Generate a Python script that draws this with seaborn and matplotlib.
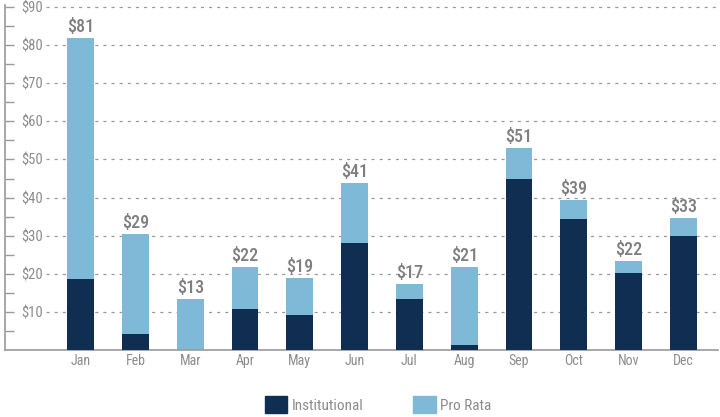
import numpy as np
import pandas as pd
import seaborn as sns
import matplotlib.pyplot as plt
from matplotlib.patches import Patch

months = ['Jan', 'Feb', 'Mar', 'Apr', 'May', 'Jun', 'Jul', 'Aug', 'Sep', 'Oct', 'Nov', 'Dec']
institutional = [18.6, 4.2, 0.0, 10.8, 9.2, 28.1, 13.4, 1.3, 44.9, 34.4, 20.2, 29.9]
pro_rata = [63.3, 26.2, 13.4, 11.0, 9.7, 15.7, 3.9, 20.5, 8.1, 5.0, 3.2, 4.7]
labels = ['$81', '$29', '$13', '$22', '$19', '$41', '$17', '$21', '$51', '$39', '$22', '$33']

navy = '#102e52'
light = '#7fb9d8'
gray = '#8c8c8c'

df = pd.DataFrame({'month': months, 'institutional': institutional, 'pro_rata': pro_rata})
df['total'] = df['institutional'] + df['pro_rata']

sns.set_style('white')
plt.rcParams['font.family'] = ['Roboto Condensed', 'Barlow Condensed', 'DejaVu Sans']

fig = plt.figure(figsize=(7.2, 4.17), dpi=100)
ax = fig.add_axes([5 / 720, 67 / 417, 713 / 720, 345 / 417])

sns.barplot(data=df, x='month', y='total', color=light, saturation=1, width=0.49, ax=ax,
            linewidth=0, edgecolor='none', zorder=2)
sns.barplot(data=df, x='month', y='institutional', color=navy, saturation=1, width=0.49, ax=ax,
            linewidth=0, edgecolor='none', zorder=3)

ax.set_xlim(-1.38, 11.63)
ax.set_ylim(0, 90.55)

# dotted gridlines start just right of the tick labels
for v in range(10, 100, 10):
    ax.hlines(v, -0.63, 11.63, colors='#9a9a9a', linestyles=(0, (2.5, 4)), linewidth=0.9, zorder=0)

ax.set_yticks(range(10, 100, 10))
ax.set_yticks(range(5, 90, 10), minor=True)
ax.set_yticklabels([f'${v}' for v in range(10, 100, 10)])
ax.tick_params(axis='y', which='both', direction='in', length=6.5, width=1, color='#9a9a9a',
               left=True, pad=-12, labelsize=10.5, labelcolor=gray)
for t in ax.get_yticklabels():
    t.set_horizontalalignment('left')
ax.tick_params(axis='x', length=0, pad=3, labelsize=10, labelcolor=gray)

for i, (tot, lab) in enumerate(zip(df['total'], labels)):
    ax.annotate(lab, (i, tot), xytext=(0, 1.5), textcoords='offset points', ha='center', va='bottom',
                fontsize=13, color='#7f7f7f', fontweight='medium')

for side in ['top', 'right']:
    ax.spines[side].set_visible(False)
ax.spines['left'].set_color('#9a9a9a')
ax.spines['bottom'].set_color('#9a9a9a')
ax.spines['left'].set_linewidth(1.2)
ax.spines['bottom'].set_linewidth(1.2)
ax.set_xlabel('')
ax.set_ylabel('')

handles = [Patch(color=navy, label='Institutional'), Patch(color=light, label='Pro Rata')]
leg = fig.legend(handles=handles, loc='lower center', bbox_to_anchor=(0.525, -0.024), ncol=2, frameon=False,
                 fontsize=11, handlelength=1.5, handleheight=1.35, handletextpad=0.3, columnspacing=3.2)
for t in leg.get_texts():
    t.set_color(gray)

fig.savefig('out.png', dpi=100)
